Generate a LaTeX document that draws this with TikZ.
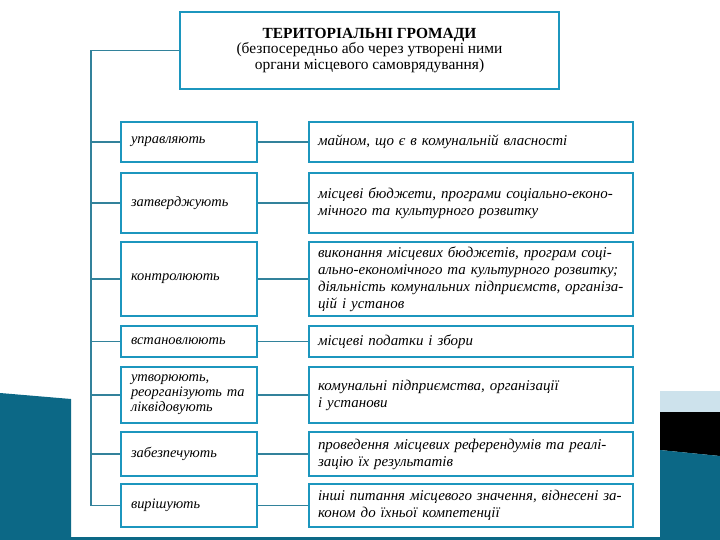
\documentclass[tikz,border=0pt]{standalone}
\usepackage{fontspec}
\setmainfont{Liberation Serif}
\definecolor{boxblue}{RGB}{28,150,190}
\definecolor{linkteal}{RGB}{50,130,155}
\definecolor{slideteal}{RGB}{12,104,134}
\definecolor{slidelight}{RGB}{205,226,236}
\begin{document}
\begin{tikzpicture}[x=1bp, y=-1bp,
    box/.style={draw=boxblue, line width=2.5bp, fill=white, inner ysep=2bp},
    lbox/.style={box, text width=122bp, inner xsep=7bp, align=left,
      font=\itshape\fontsize{14.5}{15}\selectfont},
    rbox/.style={box, text width=306bp, inner xsep=9bp, align=left,
      font=\itshape\fontsize{15}{17}\selectfont},
    link/.style={draw=linkteal, line width=1.3bp}]
  \useasboundingbox (0, 0) rectangle (720, 540) ;
  % slide background
  \fill[white] (0, 0) rectangle (720, 540) ;
  \fill[slideteal] (0, 393) -- (71, 399) -- (71, 540) -- (0, 540) -- cycle ;
  \fill[slidelight] (660, 391) rectangle (720, 412) ;
  \fill[black] (660, 412) -- (720, 412) -- (720, 456) -- (660, 450) -- cycle ;
  \fill[slideteal] (660, 450) -- (720, 456) -- (720, 540) -- (660, 540) -- cycle ;
  \fill[slideteal] (71, 537) rectangle (660, 540) ;
  % top box
  \node[box, minimum width=379bp, minimum height=77bp, align=center,
    font=\fontsize{15.5}{16}\selectfont] (top) at (369.5, 50.5)
    {\textbf{ТЕРИТОРІАЛЬНІ ГРОМАДИ}\\(безпосередньо або через утворені ними\\органи місцевого самоврядування)} ;
  % left column
  \node[lbox, minimum height=40bp] (l1) at (189, 142) {\hspace{3bp}управляють} ;
  \node[lbox, minimum height=60bp] (l2) at (189, 203) {\hspace{3bp}затверджують} ;
  \node[lbox, minimum height=74bp] (l3) at (189, 279) {\hspace{3bp}контролюють} ;
  \node[lbox, minimum height=31bp] (l4) at (189, 341.5) {\hspace{3bp}встановлюють} ;
  \node[lbox, minimum height=56bp] (l5) at (189, 395) {\hspace{3bp}утворюють,\\\hspace{3bp}реорганізують та\\\hspace{3bp}ліквідовують} ;
  \node[lbox, minimum height=44bp] (l6) at (189, 454) {\hspace{3bp}забезпечують} ;
  \node[lbox, minimum height=43bp] (l7) at (189, 505.5) {\hspace{3bp}вирішують} ;
  % right column
  \node[rbox, minimum height=40bp] (r1) at (471, 142) {майном, що є в комунальній власності} ;
  \node[rbox, minimum height=60bp] (r2) at (471, 203) {місцеві бюджети, програми соціально-еконо-\\мічного та культурного розвитку} ;
  \node[rbox, minimum height=74bp] (r3) at (471, 279) {виконання місцевих бюджетів, програм соці-\\ально-економічного та культурного розвитку;\\діяльність комунальних підприємств, організа-\\цій і установ} ;
  \node[rbox, minimum height=31bp] (r4) at (471, 341.5) {місцеві податки і збори} ;
  \node[rbox, minimum height=56bp] (r5) at (471, 395) {комунальні підприємства, організації\\і установи} ;
  \node[rbox, minimum height=44bp] (r6) at (471, 454) {проведення місцевих референдумів та реалі-\\зацію їх результатів} ;
  \node[rbox, minimum height=43bp] (r7) at (471, 505.5) {інші питання місцевого значення, віднесені за-\\коном до їхньої компетенції} ;
  % connectors
  \coordinate (trunk) at (91, 0) ;
  \draw[link] (top.west) -- (top.west -| trunk) -- (l7.west -| trunk) -- (l7.west) ;
  \foreach \i in {1,...,6}
    \draw[link] (l\i.west -| trunk) -- (l\i.west) ;
  \foreach \i in {1,...,7}
    \draw[link] (l\i.east) -- (r\i.west) ;
\end{tikzpicture}
\end{document}
